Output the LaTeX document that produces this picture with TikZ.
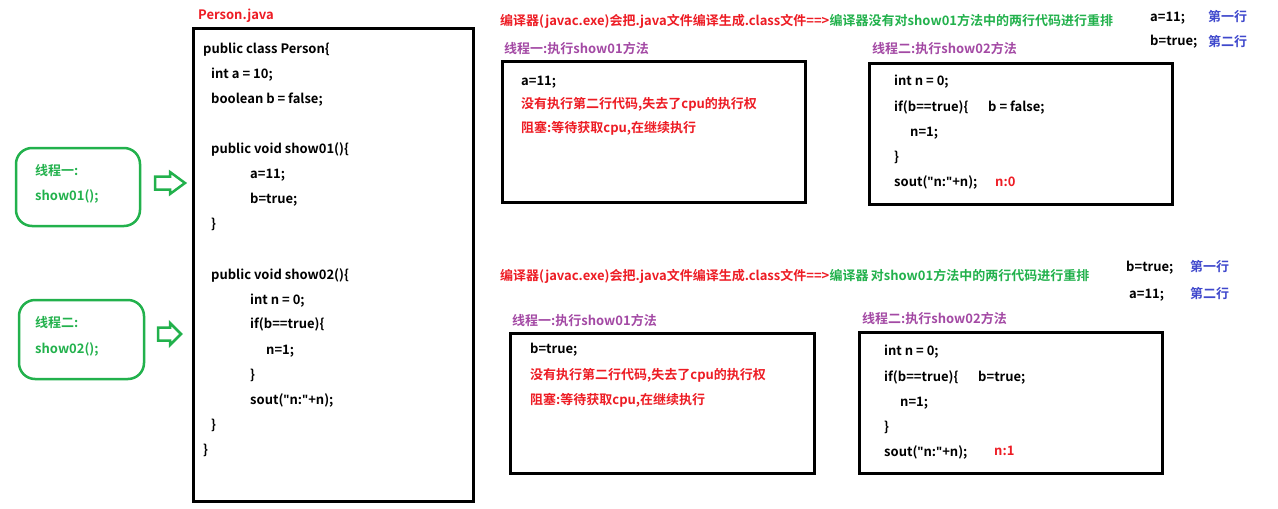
\documentclass[tikz,border=0pt]{standalone}
\usepackage{fontspec}
\setmainfont{Noto Sans CJK SC}[BoldFont={Noto Sans CJK SC Bold}]
\newfontfamily\quotefont{Open Sans}[BoldFont={Open Sans Bold}]
\newcommand{\dq}{{\quotefont"}}
\definecolor{pgreen}{RGB}{34,177,76}
\definecolor{pred}{RGB}{237,28,36}
\definecolor{ppurple}{RGB}{163,73,164}
\definecolor{pblue}{RGB}{63,72,204}
\begin{document}
\begin{tikzpicture}[x=1pt,y=-1pt,
  txt/.style={anchor=base west,inner sep=0pt,font=\bfseries\fontsize{13}{15}\selectfont},
  redtxt/.style={txt,text=pred},
  greentxt/.style={txt,text=pgreen},
  purptxt/.style={txt,text=ppurple},
  bluetxt/.style={txt,text=pblue},
  codebox/.style={draw=black,line width=3pt},
  threadbox/.style={draw=pgreen,line width=2.5pt,rounded corners=16pt},
  hollowarrow/.style={draw=pgreen,line width=2.5pt,fill=white}]
\useasboundingbox (0,0) rectangle (1278,509);

% ---------- left thread boxes ----------
\draw[threadbox] (16,148) rectangle (140,226);
\node[greentxt] (t1a) at (35,175) {线程一:};
\node[greentxt] (t1b) at (35,200) {show01();};
\draw[threadbox] (19,300) rectangle (144,379);
\node[greentxt] (t2a) at (35,327) {线程二:};
\node[greentxt] (t2b) at (35,353) {show02();};

% hollow arrows
\draw[hollowarrow] (155,176.5) -- (170,176.5) -- (170,172) -- (185,183) -- (170,194) -- (170,189.5) -- (155,189.5) -- cycle;
\draw[hollowarrow] (158,327.5) -- (170,327.5) -- (170,323) -- (181,334) -- (170,345) -- (170,340.5) -- (158,340.5) -- cycle;

% ---------- Person.java ----------
\node[redtxt] (pj) at (198,19) {Person.java};
\draw[codebox] (193,28) rectangle (473,501);
\node[txt] (c1) at (203,53) {public class Person\{};
\node[txt] (c2) at (211,78) {int a = 10;};
\node[txt] (c3) at (211,103) {boolean b = false;};
\node[txt] (c4) at (211,153) {public void show01()\{};
\node[txt] (c5) at (250,178) {a=11;};
\node[txt] (c6) at (250,203) {b=true;};
\node[txt] (c7) at (211,228) {\}};
\node[txt] (c8) at (211,279) {public void show02()\{};
\node[txt] (c9) at (250,304) {int n = 0;};
\node[txt] (c10) at (250,328) {if(b==true)\{};
\node[txt] (c11) at (266,354) {n=1;};
\node[txt] (c12) at (250,379) {\}};
\node[txt] (c13) at (250,404) {sout(\dq n:\dq+n);};
\node[txt] (c14) at (211,429) {\}};
\node[txt] (c15) at (203,454) {\}};

% ---------- top scenario ----------
\node[redtxt] (h1r) at (500,25) {编译器(javac.exe)会把.java文件编译生成.class文件==>};
\node[greentxt,anchor=base west] (h1g) at (h1r.base east) {编译器没有对show01方法中的两行代码进行重排};
\node[txt] (o1a) at (1150,21) {a=11;};
\node[bluetxt] (o1b) at (1208,21) {第一行};
\node[txt] (o1c) at (1150,45) {b=true;};
\node[bluetxt] (o1d) at (1208,46) {第二行};

\node[purptxt] (l1) at (504,53) {线程一:执行show01方法};
\draw[codebox] (502,61) rectangle (805,202);
\node[txt] (a1) at (521,85) {a=11;};
\node[redtxt] (a2) at (521,108) {没有执行第二行代码,失去了cpu的执行权};
\node[redtxt] (a3) at (521,132) {阻塞:等待获取cpu,在继续执行};

\node[purptxt] (l2) at (872,53) {线程二:执行show02方法};
\draw[codebox] (869,63) rectangle (1172,204);
\node[txt] (b1) at (894,85) {int n = 0;};
\node[txt] (b2) at (894,111) {if(b==true)\{};
\node[txt] (b3) at (988,111) {b = false;};
\node[txt] (b4) at (910,136) {n=1;};
\node[txt] (b5) at (894,161) {\}};
\node[txt] (b6) at (894,186) {sout(\dq n:\dq+n);};
\node[redtxt] (b7) at (995,186) {n:0};

% ---------- bottom scenario ----------
\node[redtxt] (h2r) at (500,280) {编译器(javac.exe)会把.java文件编译生成.class文件==>};
\node[greentxt,anchor=base west] (h2g) at (h2r.base east) {编译器\,对show01方法中的两行代码进行重排};
\node[txt] (o2a) at (1126,271) {b=true;};
\node[bluetxt] (o2b) at (1190,271) {第一行};
\node[txt] (o2c) at (1129,298) {a=11;};
\node[bluetxt] (o2d) at (1190,298) {第二行};

\node[purptxt] (l3) at (512,325) {线程一:执行show01方法};
\draw[codebox] (510,333) rectangle (814,473);
\node[txt] (d1) at (530,353) {b=true;};
\node[redtxt] (d2) at (530,379) {没有执行第二行代码,失去了cpu的执行权};
\node[redtxt] (d3) at (530,404) {阻塞:等待获取cpu,在继续执行};

\node[purptxt] (l4) at (862,323) {线程二:执行show02方法};
\draw[codebox] (859,332) rectangle (1162,473);
\node[txt] (e1) at (884,355) {int n = 0;};
\node[txt] (e2) at (884,381) {if(b==true)\{};
\node[txt] (e3) at (978,381) {b=true;};
\node[txt] (e4) at (900,406) {n=1;};
\node[txt] (e5) at (884,431) {\}};
\node[txt] (e6) at (884,456) {sout(\dq n:\dq+n);};
\node[redtxt] (e7) at (994,455) {n:1};
\end{tikzpicture}
\end{document}
